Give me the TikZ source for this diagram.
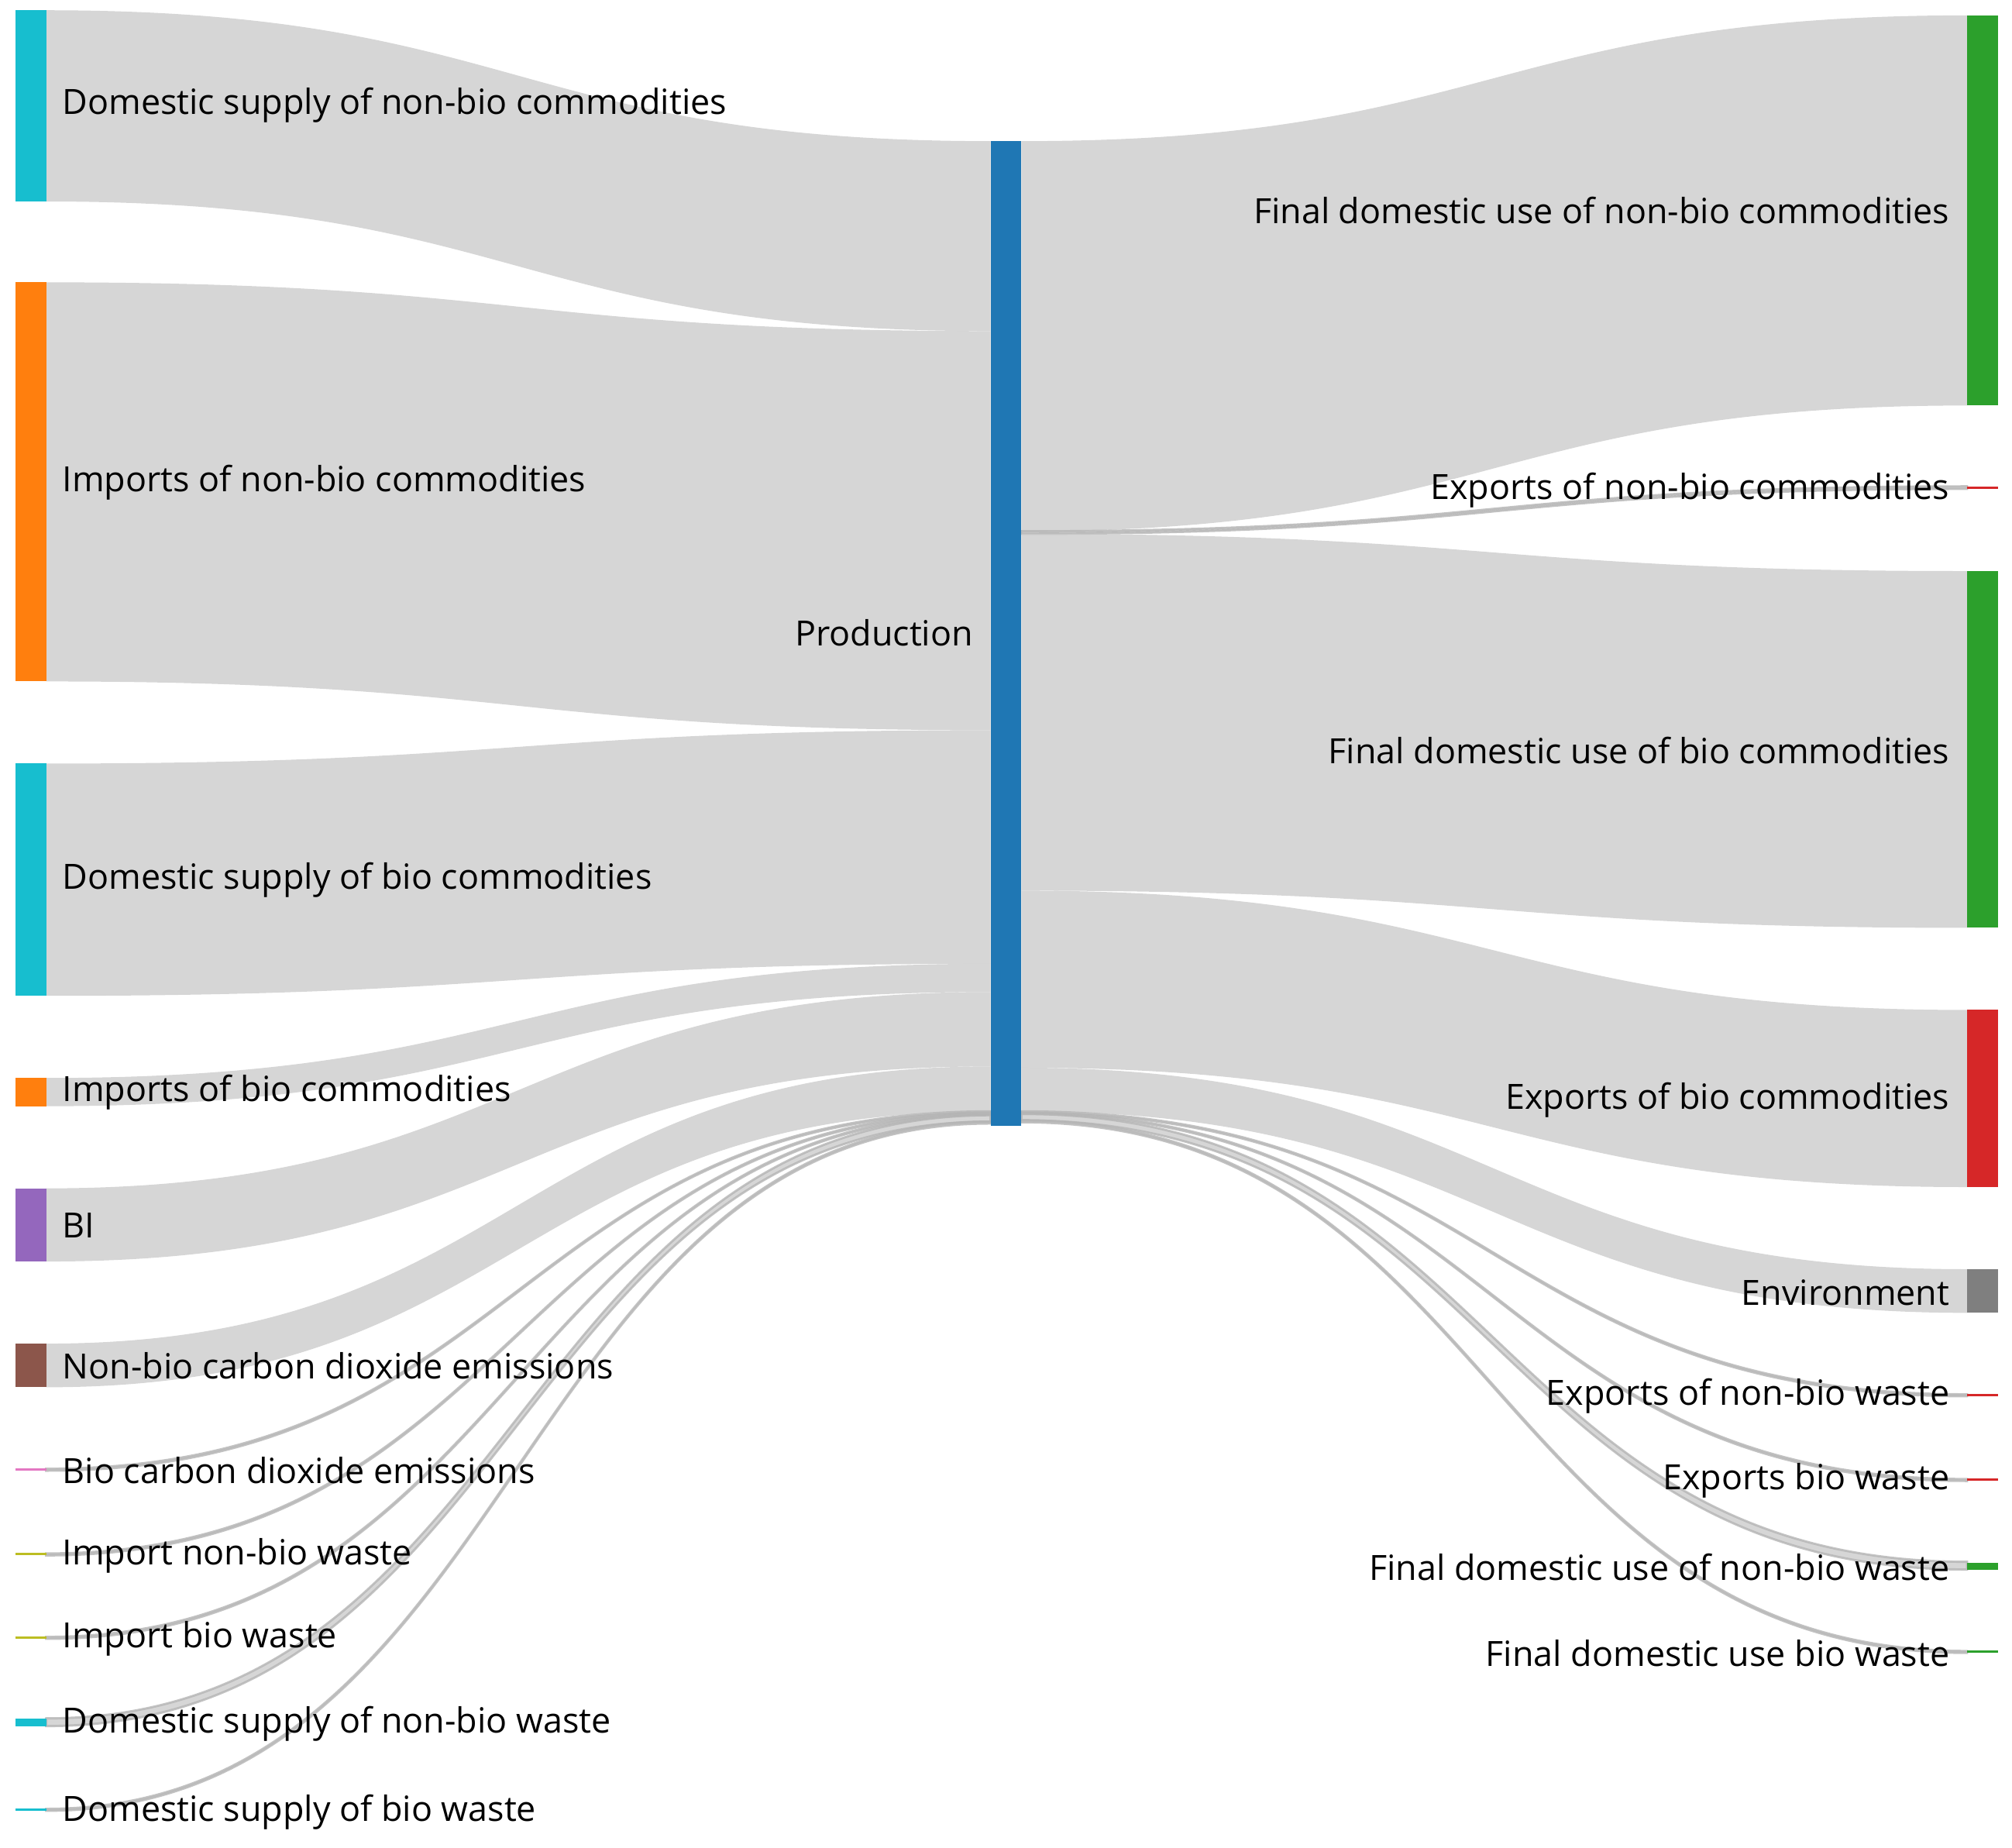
\documentclass[tikz,border=0pt]{standalone}
\usepackage{fontspec}
\setmainfont{Open Sans}
\definecolor{cCyan}{HTML}{17BECF}
\definecolor{cOrange}{HTML}{FF7F0E}
\definecolor{cPurple}{HTML}{9467BD}
\definecolor{cBrown}{HTML}{8C564B}
\definecolor{cPink}{HTML}{E377C2}
\definecolor{cOlive}{HTML}{BCBD22}
\definecolor{cBlue}{HTML}{1F77B4}
\definecolor{cGreen}{HTML}{2CA02C}
\definecolor{cRed}{HTML}{D62728}
\definecolor{cGray}{HTML}{7F7F7F}
\definecolor{flowgray}{RGB}{200,200,200}
\tikzset{
 flowc/.style={fill=flowgray,fill opacity=0.75},
 thinflow/.style={draw=flowgray!90!black,draw opacity=0.8,line width=0.5pt,fill=flowgray,fill opacity=0.75},
 bar/.style={draw=none,inner sep=0,minimum width=0.24cm},
 lab/.style={font=\fontsize{7.7}{9}\selectfont,inner sep=0},
}
\newcommand\flowL[5][flowc]{\path[#1] (36,#2) .. controls (404,#2) and (404,#4) .. (772,#4) -- (772,#5) .. controls (404,#5) and (404,#3) .. (36,#3) -- cycle;}
\newcommand\flowR[5][flowc]{\path[#1] (796,#2) .. controls (1164,#2) and (1164,#4) .. (1533,#4) -- (1533,#5) .. controls (1164,#5) and (1164,#3) .. (796,#3) -- cycle;}
\newcommand\barN[5]{\fill[#5] (#2,#3) rectangle ++(24,#4-#3) coordinate (#1);}
\begin{document}
\begin{tikzpicture}[x=0.01cm,y=-0.01cm]
\useasboundingbox (0,0) rectangle (1568,1440);
% flows left
\flowL{8}{157}{110}{258}
\flowL{220}{531}{258}{569}
\flowL{595}{776}{569}{751}
\flowL{840}{862}{751}{773}
\flowL{926}{983}{773}{831}
\flowL{1047}{1081}{831}{866}
\flowL[thinflow]{1144.5}{1146}{866}{867}
\flowL[thinflow]{1210.5}{1212}{867}{868}
\flowL[thinflow]{1275.5}{1277}{868}{869}
\flowL[thinflow]{1339}{1345}{869}{874}
\flowL[thinflow]{1409.5}{1411}{874}{875.5}
% flows right
\flowR{110}{414}{12}{316}
\flowR[thinflow]{414}{416}{379}{381}
\flowR{416}{694}{445}{723}
\flowR{694}{832}{787}{925}
\flowR{832}{866}{989}{1023}
\flowR[thinflow]{866}{867}{1086.5}{1088}
\flowR[thinflow]{867}{868}{1152.5}{1154}
\flowR[thinflow]{868}{873}{1217}{1223}
\flowR[thinflow]{873}{874.5}{1286.5}{1288}
% bars left
\barN{a}{12}{8}{157}{cCyan}
\barN{b}{12}{220}{531}{cOrange}
\barN{c}{12}{595}{776}{cCyan}
\barN{d}{12}{840}{862}{cOrange}
\barN{e}{12}{926}{983}{cPurple}
\barN{f}{12}{1047}{1081}{cBrown}
\barN{g}{12}{1144}{1146}{cPink}
\barN{h}{12}{1210}{1212}{cOlive}
\barN{i}{12}{1275}{1277}{cOlive}
\barN{j}{12}{1339}{1345}{cCyan}
\barN{k}{12}{1409}{1411}{cCyan}
% production
\barN{p}{772}{110}{877}{cBlue}
% bars right
\barN{r1}{1533}{12}{316}{cGreen}
\barN{r2}{1533}{379}{381}{cRed}
\barN{r3}{1533}{445}{723}{cGreen}
\barN{r4}{1533}{787}{925}{cRed}
\barN{r5}{1533}{989}{1023}{cGray}
\barN{r6}{1533}{1086}{1088}{cRed}
\barN{r7}{1533}{1152}{1154}{cRed}
\barN{r8}{1533}{1218}{1223}{cGreen}
\barN{r9}{1533}{1286}{1288}{cGreen}
% labels
\node[lab,anchor=west] (la) at (48,82) {Domestic supply of non-bio commodities};
\node[lab,anchor=west] (lb) at (48,376) {Imports of non-bio commodities};
\node[lab,anchor=west] (lc) at (48,686) {Domestic supply of bio commodities};
\node[lab,anchor=west] (ld) at (48,851) {Imports of bio commodities};
\node[lab,anchor=west] (le) at (48,955) {BI};
\node[lab,anchor=west] (lf) at (48,1064) {Non-bio carbon dioxide emissions};
\node[lab,anchor=west] (lg) at (48,1146) {Bio carbon dioxide emissions};
\node[lab,anchor=west] (lh) at (48,1212) {Import non-bio waste};
\node[lab,anchor=west] (li) at (48,1277) {Import bio waste};
\node[lab,anchor=west] (lj) at (48,1343) {Domestic supply of non-bio waste};
\node[lab,anchor=west] (lk) at (48,1412) {Domestic supply of bio waste};
\node[lab,anchor=east] (lp) at (759,493) {Production};
\node[lab,anchor=east] (m1) at (1520,164) {Final domestic use of non-bio commodities};
\node[lab,anchor=east] (m2) at (1520,382) {Exports of non-bio commodities};
\node[lab,anchor=east] (m3) at (1520,585) {Final domestic use of bio commodities};
\node[lab,anchor=east] (m4) at (1520,857) {Exports of bio commodities};
\node[lab,anchor=east] (m5) at (1520,1007) {Environment};
\node[lab,anchor=east] (m6) at (1520,1088) {Exports of non-bio waste};
\node[lab,anchor=east] (m7) at (1520,1154) {Exports bio waste};
\node[lab,anchor=east] (m8) at (1520,1221) {Final domestic use of non-bio waste};
\node[lab,anchor=east] (m9) at (1520,1288) {Final domestic use bio waste};
\end{tikzpicture}
\end{document}
